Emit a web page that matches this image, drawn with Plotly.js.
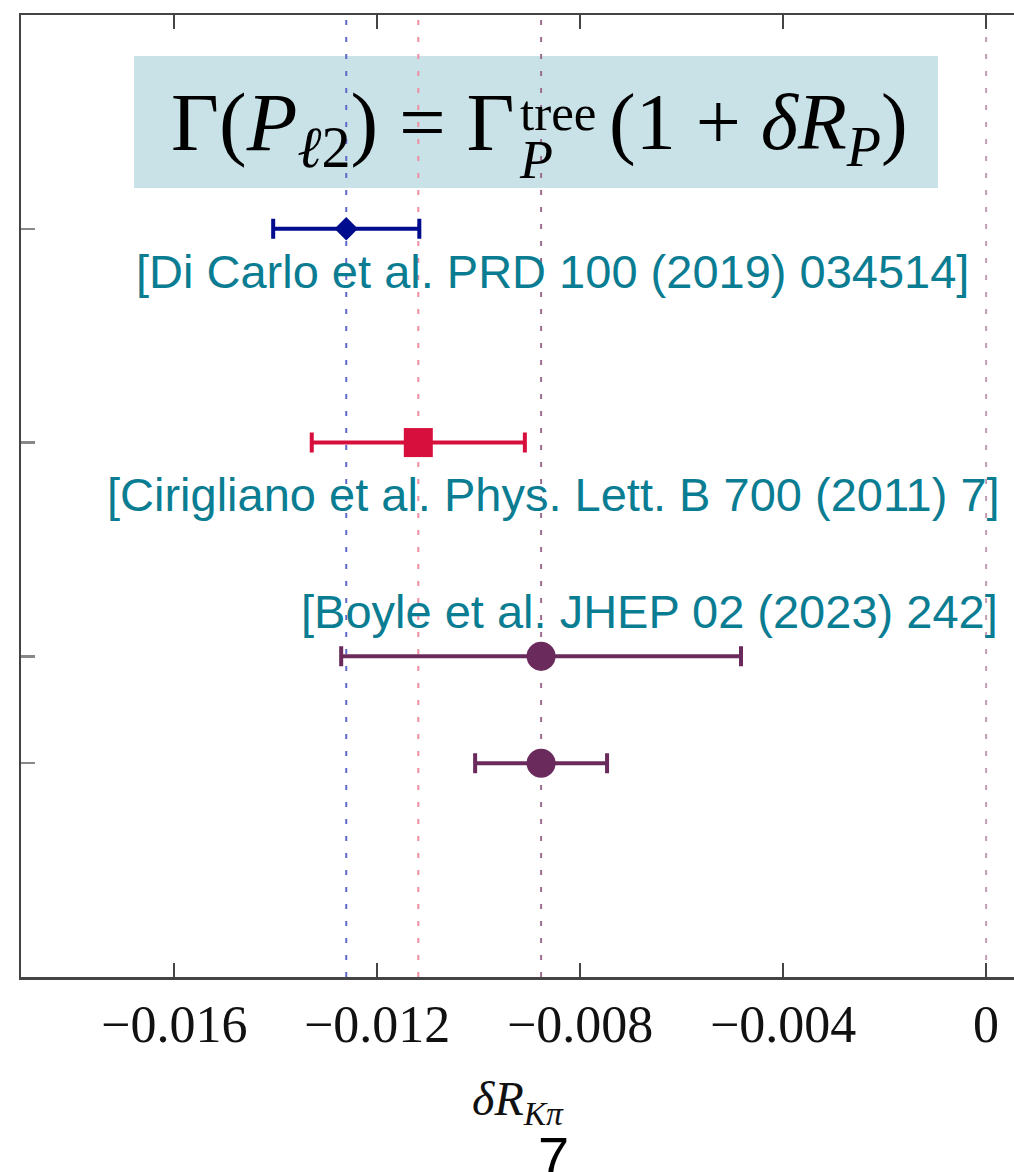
<!DOCTYPE html>
<html>
<head>
<meta charset="utf-8">
<script src="https://cdn.plot.ly/plotly-3.0.1.min.js"></script>
<style>html,body{margin:0;padding:0;background:#fff;}#chart{width:1014px;height:1172px;}</style>
</head>
<body>
<div id="chart"></div>
<script>
// ---- data ----
const refs = ['[Di Carlo et al. PRD 100 (2019) 034514]', '[Cirigliano et al. Phys. Lett. B 700 (2011) 7]', '[Boyle et al. JHEP 02 (2023) 242]', '[Boyle et al. JHEP 02 (2023) 242]'];
const rows = [4, 3, 2, 1.5];
const values = [-0.01261, -0.01119, -0.00877, -0.00877];
const errors = [0.00144, 0.0021, 0.00394, 0.0013];
const symbols = ['diamond', 'square', 'circle', 'circle'];
const colors = ['#000c8e', '#d70f3c', '#6a2a5b', '#6a2a5b'];
const refLineValues = [values[0], values[1], values[2], 0];
const refLineColors = ['#5d69c6', '#ee8ea0', '#9a6d8f', '#c29cb4'];
const tickVals = [-0.016, -0.012, -0.008, -0.004, 0];
const tickText = ['\u22120.016', '\u22120.012', '\u22120.008', '\u22120.004', '0'];
const labelRows = [3.80, 2.757, 2.21];
const labelX = [-0.00855, -0.00853, -0.00664];
const yRange = [0.5, 5];

const SERIF = 'Liberation Serif, Times New Roman, serif';
const SANS = 'Liberation Sans, Arial, Helvetica, sans-serif';
const px = v => (v - 21) / 993;     // pixel x -> paper
const py = v => (977 - v) / 962;    // pixel y -> paper

const traces = [];
refLineValues.forEach((v, i) => {
  traces.push({
    x: [v, v], y: yRange, mode: 'lines', type: 'scatter', hoverinfo: 'skip', showlegend: false,
    line: {color: refLineColors[i], width: 2, dash: '5px,12px'}
  });
});
values.forEach((v, i) => {
  traces.push({
    x: [v], y: [rows[i]], mode: 'markers', type: 'scatter', showlegend: false, name: refs[i],
    marker: {symbol: symbols[i], color: colors[i], size: symbols[i] === 'diamond' ? 18 : 29, line: {width: 0}},
    error_x: {type: 'data', array: [errors[i]], color: colors[i], thickness: 4, width: 10}
  });
});

const annotations = [];
for (let i = 0; i < 3; i++) {
  annotations.push({
    x: labelX[i], y: labelRows[i], xref: 'x', yref: 'y', text: refs[i], showarrow: false,
    font: {family: SANS, size: 47, color: '#0a7d92'},
    xanchor: 'center', yanchor: 'middle'
  });
}
// formula pieces
annotations.push({
  x: px(517), y: py(128), xref: 'paper', yref: 'paper', xanchor: 'right', yanchor: 'middle',
  showarrow: false,
  text: '\u0393(<i>P</i><sub><i>\u2113</i>2</sub>) = \u0393',
  font: {family: SERIF, size: 83, color: '#000'}
});
annotations.push({
  x: px(518), y: py(113), xref: 'paper', yref: 'paper', xanchor: 'left', yanchor: 'middle',
  showarrow: false, text: 'tree',
  font: {family: SERIF, size: 51, color: '#000'}
});
annotations.push({
  x: px(517), y: py(160), xref: 'paper', yref: 'paper', xanchor: 'left', yanchor: 'middle',
  showarrow: false, text: '<i>P</i>',
  font: {family: SERIF, size: 54, color: '#000'}
});
annotations.push({
  x: px(607), y: py(128), xref: 'paper', yref: 'paper', xanchor: 'left', yanchor: 'middle',
  showarrow: false,
  text: '(1 + <i>\u03b4R</i><sub><i>P</i></sub>)',
  font: {family: SERIF, size: 80, color: '#000'}
});
annotations.push({
  x: px(553), y: py(1156), xref: 'paper', yref: 'paper', xanchor: 'center', yanchor: 'middle',
  showarrow: false, text: '7',
  font: {family: SANS, size: 56, color: '#000'}
});

const layout = {
  width: 1014, height: 1172,
  margin: {l: 21, r: 0, t: 15, b: 195},
  paper_bgcolor: '#fff', plot_bgcolor: '#fff',
  xaxis: {
    range: [-0.01902, 0.00055], tickvals: tickVals, ticktext: tickText,
    ticks: 'inside', ticklen: 14, tickwidth: 2, tickcolor: '#444',
    showline: true, linecolor: '#444', linewidth: 2.5, mirror: 'ticks',
    showgrid: false, zeroline: false,
    tickfont: {family: SERIF, size: 52, color: '#111'},
    title: {text: '<i>\u03b4R</i><sub><i>K\u03c0</i></sub>', standoff: 30,
      font: {family: SERIF, size: 48, color: '#111'}}
  },
  yaxis: {
    range: yRange, tickvals: rows, showticklabels: false,
    ticks: 'inside', ticklen: 14, tickwidth: 2.5, tickcolor: '#888',
    showline: true, linecolor: '#444', linewidth: 2.5, mirror: false,
    showgrid: false, zeroline: false
  },
  shapes: [{
    type: 'rect', xref: 'paper', yref: 'paper', layer: 'below',
    x0: px(134), x1: px(938), y0: py(188), y1: py(56),
    fillcolor: '#c9e2e7', line: {width: 0}
  }],
  annotations: annotations,
  showlegend: false
};

Plotly.newPlot('chart', traces, layout, {staticPlot: true, displayModeBar: false});
</script>
</body>
</html>
